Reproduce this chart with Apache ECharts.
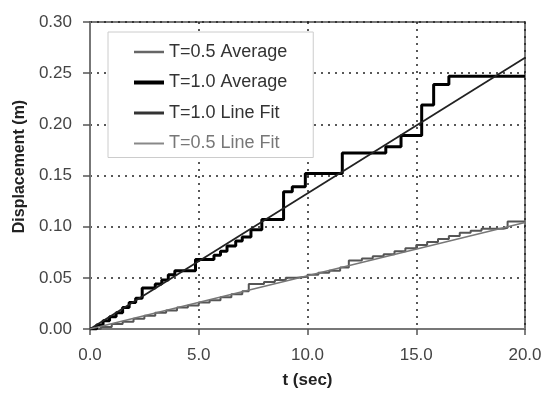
<!DOCTYPE html>
<html>
<head>
<meta charset="utf-8">
<script src="https://cdn.jsdelivr.net/npm/echarts@6/dist/echarts.min.js"></script>
<style>html,body{margin:0;padding:0;background:#fff;}#c{width:547px;height:394px;}</style>
</head>
<body>
<div id="c"></div>
<script>
var seriesNames = ['T=0.5 Average', 'T=1.0 Average', 'T=1.0 Line Fit', 'T=0.5 Line Fit'];
var xTicks = [0, 5, 10, 15, 20];
var yTicks = [0, 0.05, 0.10, 0.15, 0.20, 0.25, 0.30];

var t05Average = [[0,0],[0.5,0.002],[1,0.005],[1.5,0.007],[2,0.010],[2.5,0.013],[3,0.016],[3.5,0.018],[4,0.021],[4.5,0.023],[5,0.026],[5.5,0.028],[6,0.031],[6.5,0.034],[7,0.037],[7.3,0.044],[8,0.046],[8.5,0.048],[9,0.050],[9.5,0.051],[10,0.053],[10.5,0.055],[11,0.057],[11.5,0.060],[11.9,0.067],[12.5,0.069],[13,0.071],[13.5,0.073],[14,0.076],[14.5,0.079],[15,0.082],[15.5,0.085],[16,0.088],[16.5,0.091],[17,0.094],[17.5,0.096],[18,0.098],[19,0.099],[19.2,0.105],[20,0.105]];
var t10Average = [[0,0],[0.3,0.004],[0.6,0.008],[0.9,0.012],[1.2,0.016],[1.5,0.021],[1.8,0.026],[2.1,0.030],[2.4,0.040],[3.0,0.044],[3.3,0.048],[3.6,0.053],[3.9,0.057],[4.85,0.068],[5.7,0.072],[6.0,0.076],[6.3,0.081],[6.7,0.086],[7.0,0.090],[7.4,0.097],[7.9,0.107],[8.9,0.134],[9.3,0.139],[9.9,0.152],[11.6,0.172],[13.6,0.178],[14.3,0.189],[15.25,0.219],[15.8,0.239],[16.5,0.247],[20,0.247]];
var t10Fit = [[0,0],[20,0.265]];
var t05Fit = [[0,0],[20,0.104]];

function bandIcon(th) {
  var a = (14 - th) / 2, b = a + th;
  return 'path://M0,0L0,0M0,14L0,14M0,' + a + 'H30V' + b + 'H0Z';
}

var chart = echarts.init(document.getElementById('c'));
var font = 'Liberation Sans, Arial, sans-serif';
chart.setOption({
  animation: false,
  backgroundColor: '#fff',
  grid: {left: 90, right: 22, top: 22, bottom: 62, containLabel: false, show: true, borderColor: '#777', borderWidth: 2, backgroundColor: 'transparent'},
  legend: {
    orient: 'vertical', left: 108, top: 32,
    padding: [11, 26, 5, 26], itemGap: 12.5, itemWidth: 30, itemHeight: 14,
    backgroundColor: '#fff', borderColor: '#ccc', borderWidth: 1,
    textStyle: {fontFamily: font, fontSize: 18, color: '#333'},
    data: [
      {name: seriesNames[0], icon: bandIcon(2.5), itemStyle: {color: '#666', borderWidth: 0}},
      {name: seriesNames[1], icon: bandIcon(4), itemStyle: {color: '#000', borderWidth: 0}},
      {name: seriesNames[2], icon: bandIcon(3), itemStyle: {color: '#333', borderWidth: 0}},
      {name: seriesNames[3], icon: bandIcon(2), itemStyle: {color: '#888', borderWidth: 0}, textStyle: {color: '#777'}}
    ]
  },
  xAxis: {
    type: 'value', min: 0, max: 20, interval: 5,
    name: 't (sec)', nameLocation: 'middle', nameGap: 43,
    nameTextStyle: {fontFamily: font, fontSize: 17, fontWeight: 'bold', color: '#222'},
    axisLine: {lineStyle: {color: '#777', width: 2}},
    axisTick: {show: true, length: 6, lineStyle: {color: '#555', width: 1.5}},
    axisLabel: {margin: 18, fontFamily: font, fontSize: 17, color: '#444', formatter: function(v){ return xTicks.indexOf(v) >= 0 ? v.toFixed(1) : ''; }},
    splitLine: {show: true, lineStyle: {color: '#222', width: 1.5, type: [2, 5]}}
  },
  yAxis: {
    type: 'value', min: 0, max: 0.3, interval: 0.05,
    name: 'Displacement (m)', nameLocation: 'middle', nameGap: 60,
    nameTextStyle: {fontFamily: font, fontSize: 16, fontWeight: 'bold', color: '#222', padding: [0, 0, 0, 18]},
    axisLine: {show: true, lineStyle: {color: '#777', width: 2}},
    axisTick: {show: true, length: 7, lineStyle: {color: '#555', width: 1.5}},
    axisLabel: {margin: 18, fontFamily: font, fontSize: 17, color: '#444', formatter: function(v){ return v.toFixed(2); }},
    splitLine: {show: true, lineStyle: {color: '#222', width: 1.5, type: [2, 5]}}
  },
  series: [
    {name: seriesNames[0], type: 'line', step: 'end', data: t05Average, showSymbol: false, symbol: 'none', lineStyle: {color: '#555', width: 2}, itemStyle: {color: '#666'}, z: 2},
    {name: seriesNames[1], type: 'line', step: 'end', data: t10Average, showSymbol: false, symbol: 'none', lineStyle: {color: '#000', width: 3}, itemStyle: {color: '#000'}, z: 3},
    {name: seriesNames[2], type: 'line', data: t10Fit, showSymbol: false, symbol: 'none', lineStyle: {color: '#222', width: 1.8}, itemStyle: {color: '#333'}, z: 4},
    {name: seriesNames[3], type: 'line', data: t05Fit, showSymbol: false, symbol: 'none', lineStyle: {color: '#777', width: 1.5}, itemStyle: {color: '#888'}, z: 4}
  ]
});
</script>
</body>
</html>
